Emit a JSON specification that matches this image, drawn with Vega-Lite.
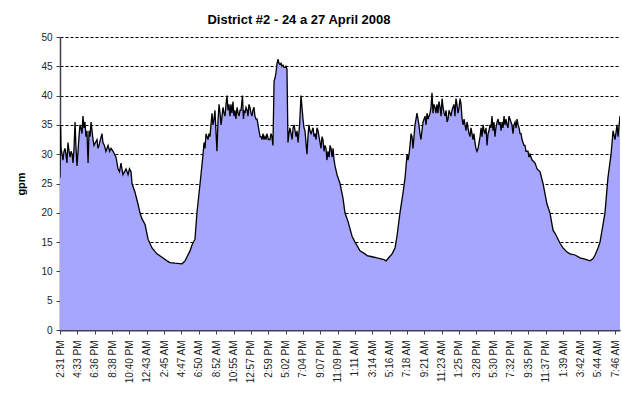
{
  "$schema": "https://vega.github.io/schema/vega-lite/v6.json",
  "autosize": {"type": "none"},
  "padding": {"left": 60, "top": 37, "right": 2, "bottom": 72},
  "width": 560,
  "height": 293,
  "background": "white",
  "title": {"text": "District #2 - 24 a 27 April 2008", "font": "Liberation Sans", "fontSize": 13, "fontWeight": "bold", "color": "black", "anchor": "middle", "dx": -41, "offset": 5},
  "config": {"view": {"stroke": null}},
  "data": {"values": [
    {"m":0,"gpm":26},{"m":4,"gpm":35},{"m":7,"gpm":31},{"m":14,"gpm":30},{"m":21,"gpm":29},{"m":28,"gpm":30.5},{"m":35,"gpm":31},{"m":42,"gpm":30},{"m":49,"gpm":28.5},{"m":56,"gpm":32},{"m":64,"gpm":30.5},{"m":71,"gpm":29.5},{"m":78,"gpm":30.5},{"m":85,"gpm":30},{"m":92,"gpm":28.5},
    {"m":99,"gpm":31},{"m":106,"gpm":35.5},{"m":113,"gpm":31},{"m":120,"gpm":28},{"m":127,"gpm":30.5},{"m":134,"gpm":33},{"m":141,"gpm":35},{"m":148,"gpm":34.5},{"m":155,"gpm":33.5},{"m":162,"gpm":36.5},{"m":169,"gpm":34.5},{"m":176,"gpm":35.5},{"m":183,"gpm":33},{"m":190,"gpm":34},{"m":198,"gpm":28.5},{"m":205,"gpm":34},
    {"m":212,"gpm":33},{"m":219,"gpm":35.5},{"m":226,"gpm":34},{"m":233,"gpm":32.5},{"m":240,"gpm":31.5},{"m":250,"gpm":32},{"m":261,"gpm":32.5},{"m":268,"gpm":31},{"m":275,"gpm":31.5},{"m":285,"gpm":32.5},{"m":296,"gpm":33.5},{"m":303,"gpm":32},{"m":313,"gpm":31.5},{"m":324,"gpm":30.5},{"m":339,"gpm":31.5},{"m":350,"gpm":30.5},{"m":360,"gpm":31},
    {"m":374,"gpm":30.5},{"m":385,"gpm":30},{"m":395,"gpm":29.5},{"m":409,"gpm":27.5},{"m":420,"gpm":27},{"m":430,"gpm":28.5},{"m":444,"gpm":26.5},{"m":455,"gpm":27},{"m":466,"gpm":27.5},{"m":480,"gpm":26.5},{"m":490,"gpm":27.5},{"m":501,"gpm":27},{"m":508,"gpm":25},{"m":529,"gpm":23.5},
    {"m":550,"gpm":21.5},{"m":564,"gpm":20},{"m":578,"gpm":19},{"m":600,"gpm":18},{"m":621,"gpm":15.5},{"m":649,"gpm":14},{"m":684,"gpm":13},{"m":727,"gpm":12.3},{"m":755,"gpm":11.8},{"m":776,"gpm":11.5},
    {"m":811,"gpm":11.4},{"m":861,"gpm":11.3},{"m":882,"gpm":11.8},{"m":896,"gpm":12.5},{"m":917,"gpm":13.5},{"m":931,"gpm":14.5},{"m":952,"gpm":15.5},{"m":966,"gpm":20},{"m":988,"gpm":25},{"m":1009,"gpm":30},
    {"m":1016,"gpm":32},{"m":1023,"gpm":31},{"m":1030,"gpm":33.5},{"m":1037,"gpm":33},{"m":1044,"gpm":32.5},{"m":1051,"gpm":33.5},{"m":1058,"gpm":33},{"m":1065,"gpm":35},{"m":1072,"gpm":37},{"m":1079,"gpm":35},{"m":1086,"gpm":36},{"m":1093,"gpm":37.5},{"m":1100,"gpm":34},{"m":1107,"gpm":30.5},{"m":1115,"gpm":36},{"m":1122,"gpm":38.5},{"m":1129,"gpm":37},{"m":1136,"gpm":35},
    {"m":1143,"gpm":36.5},{"m":1150,"gpm":38},{"m":1157,"gpm":37},{"m":1164,"gpm":36.5},{"m":1171,"gpm":38.5},{"m":1178,"gpm":40},{"m":1185,"gpm":37.5},{"m":1192,"gpm":38.5},{"m":1199,"gpm":36.5},{"m":1206,"gpm":38.5},{"m":1213,"gpm":37},{"m":1220,"gpm":39},{"m":1227,"gpm":36.5},{"m":1234,"gpm":37.5},{"m":1241,"gpm":36},{"m":1249,"gpm":38},{"m":1256,"gpm":37},{"m":1263,"gpm":36.5},{"m":1270,"gpm":37.5},{"m":1277,"gpm":37.5},{"m":1287,"gpm":40},
    {"m":1294,"gpm":36},{"m":1300,"gpm":37.5},{"m":1305,"gpm":37},{"m":1312,"gpm":38},{"m":1320,"gpm":37.5},{"m":1326,"gpm":36.5},{"m":1333,"gpm":38.5},{"m":1340,"gpm":38},{"m":1347,"gpm":37},{"m":1354,"gpm":36.5},{"m":1361,"gpm":37.5},{"m":1368,"gpm":38},{"m":1375,"gpm":36.5},{"m":1383,"gpm":36},{"m":1390,"gpm":36},{"m":1397,"gpm":35},{"m":1404,"gpm":34},{"m":1411,"gpm":33},{"m":1418,"gpm":33},{"m":1425,"gpm":32.5},{"m":1432,"gpm":33.5},
    {"m":1439,"gpm":32.5},{"m":1446,"gpm":33},{"m":1453,"gpm":32.5},{"m":1460,"gpm":33.5},{"m":1470,"gpm":32.5},{"m":1481,"gpm":32.5},{"m":1488,"gpm":33.5},{"m":1495,"gpm":33},{"m":1502,"gpm":31.5},{"m":1510,"gpm":42.5},{"m":1517,"gpm":43},{"m":1524,"gpm":44},{"m":1531,"gpm":45.5},{"m":1538,"gpm":46.2},{"m":1545,"gpm":45.5},{"m":1552,"gpm":45.3},{"m":1559,"gpm":45.5},{"m":1566,"gpm":45},{"m":1573,"gpm":45.2},{"m":1580,"gpm":44.8},
    {"m":1587,"gpm":44.8},{"m":1594,"gpm":45},{"m":1601,"gpm":44.5},{"m":1608,"gpm":32},{"m":1615,"gpm":33.5},{"m":1622,"gpm":34.5},{"m":1630,"gpm":33.5},{"m":1637,"gpm":32.5},{"m":1644,"gpm":34.5},{"m":1651,"gpm":35},{"m":1658,"gpm":34},{"m":1665,"gpm":33},{"m":1672,"gpm":34},{"m":1679,"gpm":32},{"m":1690,"gpm":35},{"m":1700,"gpm":40},{"m":1707,"gpm":38},{"m":1714,"gpm":36},
    {"m":1721,"gpm":34.5},{"m":1728,"gpm":34},{"m":1735,"gpm":32},{"m":1742,"gpm":30},{"m":1749,"gpm":33},{"m":1756,"gpm":35},{"m":1763,"gpm":34},{"m":1771,"gpm":33.5},{"m":1778,"gpm":34},{"m":1785,"gpm":34.5},{"m":1792,"gpm":33},{"m":1799,"gpm":33.5},{"m":1806,"gpm":32.5},{"m":1813,"gpm":34.5},{"m":1820,"gpm":34},{"m":1827,"gpm":33},{"m":1834,"gpm":32},{"m":1841,"gpm":31},{"m":1848,"gpm":33},{"m":1855,"gpm":32.5},{"m":1862,"gpm":30.5},{"m":1869,"gpm":31.5},
    {"m":1876,"gpm":31},{"m":1883,"gpm":29},{"m":1890,"gpm":30.5},{"m":1898,"gpm":29.5},{"m":1905,"gpm":31.5},{"m":1912,"gpm":31},{"m":1919,"gpm":29.5},{"m":1926,"gpm":31},{"m":1933,"gpm":29},{"m":1940,"gpm":28},{"m":1954,"gpm":26.5},{"m":1975,"gpm":25},{"m":1996,"gpm":22.5},{"m":2010,"gpm":20},{"m":2032,"gpm":18.5},{"m":2060,"gpm":16},
    {"m":2081,"gpm":15},{"m":2116,"gpm":13.5},{"m":2151,"gpm":13},{"m":2166,"gpm":12.7},{"m":2201,"gpm":12.5},{"m":2236,"gpm":12.3},{"m":2257,"gpm":12.2},{"m":2285,"gpm":12},{"m":2300,"gpm":11.8},{"m":2314,"gpm":12.2},
    {"m":2342,"gpm":13},{"m":2363,"gpm":14},{"m":2377,"gpm":16},{"m":2398,"gpm":20},{"m":2420,"gpm":23.5},{"m":2434,"gpm":26},{"m":2448,"gpm":30},{"m":2455,"gpm":29},{"m":2462,"gpm":30},{"m":2469,"gpm":31.5},{"m":2476,"gpm":33.5},{"m":2483,"gpm":33},{"m":2490,"gpm":31},{"m":2497,"gpm":33},
    {"m":2504,"gpm":35},{"m":2511,"gpm":36},{"m":2518,"gpm":37},{"m":2525,"gpm":36},{"m":2532,"gpm":35},{"m":2539,"gpm":33.5},{"m":2546,"gpm":32.5},{"m":2553,"gpm":34},{"m":2561,"gpm":35.5},{"m":2568,"gpm":36},{"m":2575,"gpm":36.5},{"m":2582,"gpm":35},{"m":2589,"gpm":37},{"m":2596,"gpm":36},{"m":2603,"gpm":36.5},{"m":2610,"gpm":37},{"m":2617,"gpm":38},{"m":2624,"gpm":40.5},{"m":2631,"gpm":37},
    {"m":2638,"gpm":38.5},{"m":2645,"gpm":38},{"m":2652,"gpm":37},{"m":2659,"gpm":38.5},{"m":2666,"gpm":37},{"m":2673,"gpm":39},{"m":2681,"gpm":38},{"m":2688,"gpm":36.5},{"m":2695,"gpm":39.5},{"m":2702,"gpm":38},{"m":2709,"gpm":37},{"m":2716,"gpm":36.5},{"m":2723,"gpm":37.5},{"m":2730,"gpm":35.5},{"m":2737,"gpm":36},{"m":2744,"gpm":37.5},{"m":2751,"gpm":37},{"m":2758,"gpm":36.5},{"m":2765,"gpm":37.5},{"m":2772,"gpm":38},{"m":2779,"gpm":38.5},
    {"m":2786,"gpm":36.5},{"m":2793,"gpm":39.5},{"m":2800,"gpm":38.5},{"m":2807,"gpm":37},{"m":2815,"gpm":38},{"m":2822,"gpm":39.5},{"m":2829,"gpm":38.5},{"m":2836,"gpm":36},{"m":2843,"gpm":35},{"m":2850,"gpm":36},{"m":2857,"gpm":35},{"m":2864,"gpm":34},{"m":2871,"gpm":35.5},{"m":2878,"gpm":34.5},{"m":2885,"gpm":33.5},{"m":2892,"gpm":33},{"m":2899,"gpm":34.5},{"m":2906,"gpm":33.5},{"m":2913,"gpm":32.5},{"m":2920,"gpm":33.5},{"m":2927,"gpm":32},{"m":2934,"gpm":31},{"m":2941,"gpm":30.5},
    {"m":2949,"gpm":31},{"m":2956,"gpm":32},{"m":2963,"gpm":33},{"m":2970,"gpm":34.5},{"m":2977,"gpm":33},{"m":2984,"gpm":35},{"m":2991,"gpm":34},{"m":2998,"gpm":33.5},{"m":3005,"gpm":34.5},{"m":3012,"gpm":31.5},{"m":3019,"gpm":33.5},{"m":3026,"gpm":34},{"m":3033,"gpm":35},{"m":3040,"gpm":34.5},{"m":3047,"gpm":36.5},{"m":3054,"gpm":34},{"m":3061,"gpm":35.5},{"m":3068,"gpm":33},{"m":3075,"gpm":34.5},{"m":3083,"gpm":35.5},{"m":3090,"gpm":36},{"m":3097,"gpm":35},{"m":3104,"gpm":35.5},
    {"m":3111,"gpm":34},{"m":3118,"gpm":35.5},{"m":3125,"gpm":34.5},{"m":3132,"gpm":36.5},{"m":3139,"gpm":35},{"m":3146,"gpm":36},{"m":3153,"gpm":35},{"m":3160,"gpm":34.5},{"m":3167,"gpm":36.5},{"m":3174,"gpm":36},{"m":3181,"gpm":35.5},{"m":3188,"gpm":35},{"m":3195,"gpm":33.5},{"m":3202,"gpm":35},{"m":3210,"gpm":35.5},{"m":3217,"gpm":34.5},{"m":3224,"gpm":36},{"m":3231,"gpm":35},{"m":3238,"gpm":34.5},{"m":3245,"gpm":33.5},{"m":3252,"gpm":33.5},{"m":3259,"gpm":32.5},{"m":3266,"gpm":32},{"m":3273,"gpm":31.5},{"m":3280,"gpm":31.5},{"m":3287,"gpm":30.5},{"m":3294,"gpm":30.5},{"m":3301,"gpm":30.5},{"m":3308,"gpm":29.5},{"m":3315,"gpm":30},
    {"m":3330,"gpm":29},{"m":3351,"gpm":28.5},{"m":3365,"gpm":27.5},{"m":3386,"gpm":27},{"m":3407,"gpm":25},{"m":3435,"gpm":21.5},{"m":3456,"gpm":20},{"m":3478,"gpm":17},{"m":3492,"gpm":16.5},{"m":3527,"gpm":14.8},{"m":3548,"gpm":14},{"m":3576,"gpm":13.3},
    {"m":3598,"gpm":13},{"m":3633,"gpm":12.8},{"m":3668,"gpm":12.3},{"m":3703,"gpm":12.1},{"m":3739,"gpm":11.8},{"m":3760,"gpm":12.2},{"m":3774,"gpm":12.8},{"m":3795,"gpm":14},{"m":3809,"gpm":15},{"m":3830,"gpm":18},
    {"m":3844,"gpm":20},{"m":3865,"gpm":26},{"m":3887,"gpm":30},{"m":3901,"gpm":34},{"m":3915,"gpm":32.5},{"m":3929,"gpm":35},{"m":3936,"gpm":33},{"m":3950,"gpm":36.5}
  ]},
  "mark": {"type": "area", "color": "#a6a6ff", "fillOpacity": 1, "line": {"color": "black", "strokeWidth": 1.3}, "clip": true},
  "encoding": {
    "x": {
      "field": "m", "type": "quantitative",
      "scale": {"domain": [0, 3950], "nice": false, "zero": false},
      "axis": {
        "title": null,
        "values": [0,122,245,367,489,612,734,856,979,1101,1224,1346,1468,1591,1713,1836,1958,2080,2203,2325,2447,2570,2692,2814,2937,3059,3181,3304,3426,3548,3671,3793,3915],
        "labelExpr": "(floor(((871 + datum.value) % 1440) / 60) % 12 == 0 ? 12 : floor(((871 + datum.value) % 1440) / 60) % 12) + ':' + ((871 + datum.value) % 60 < 10 ? '0' : '') + ((871 + datum.value) % 60) + (floor(((871 + datum.value) % 1440) / 60) < 12 ? ' AM' : ' PM')",
        "labelAngle": -90,
        "labelFont": "Liberation Sans", "labelFontSize": 10, "labelColor": "#222",
        "labelPadding": 6, "labelOverlap": false, "labelFlush": false, "labelBound": false,
        "domainColor": "#404050", "domainWidth": 2,
        "ticks": true, "tickSize": 4, "tickColor": "#404050",
        "grid": false
      }
    },
    "y": {
      "field": "gpm", "type": "quantitative",
      "scale": {"domain": [0, 50], "nice": false},
      "axis": {
        "title": "gpm", "titleFont": "Liberation Sans", "titleFontSize": 11, "titleFontWeight": "bold", "titleColor": "black", "titlePadding": 14,
        "values": [0,5,10,15,20,25,30,35,40,45,50],
        "labelFont": "Liberation Sans", "labelFontSize": 10, "labelColor": "#222", "labelPadding": 4,
        "domainColor": "#404050", "domainWidth": 1.5,
        "tickSize": 4, "tickColor": "#404050",
        "grid": true, "gridColor": "black", "gridDash": [3, 2], "gridWidth": 1
      }
    }
  }
}
